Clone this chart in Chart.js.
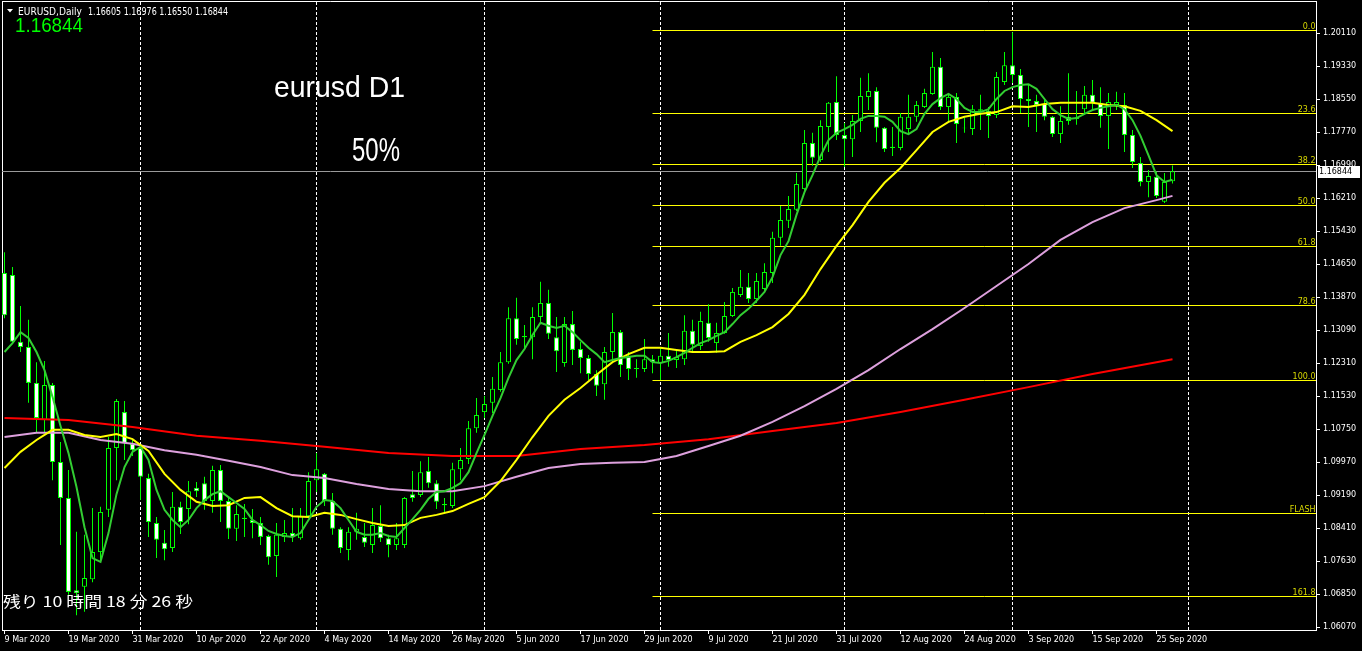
<!DOCTYPE html>
<html>
<head>
<meta charset="utf-8">
<script src="https://cdn.jsdelivr.net/npm/chart.js@4.4.1/dist/chart.umd.min.js"></script>
<style>
  html, body { margin: 0; padding: 0; background: #000; overflow: hidden; }
</style>
</head>
<body>
<canvas id="chart" width="1362" height="651"></canvas>
<script>
// EURUSD daily, one bar per weekday from 9 Mar 2020 (bar 0) to 29 Sep 2020 (bar 146)
const opens = [
  1.1444, 1.1439, 1.1281, 1.1269, 1.1184, 1.1096, 1.1179, 1.0997, 1.0912, 1.0694,
  1.0702, 1.0720, 1.0784, 1.0884, 1.1030, 1.1115, 1.1040, 1.1030, 1.0959, 1.0853,
  1.0806, 1.0794, 1.0891, 1.0886, 1.0936, 1.0947, 1.0905, 1.0978, 1.0905, 1.0839,
  1.0862, 1.0860, 1.0853, 1.0822, 1.0775, 1.0820, 1.0829, 1.0817, 1.0869, 1.0954,
  1.0969, 1.0905, 1.0839, 1.0789, 1.0832, 1.0820, 1.0801, 1.0846, 1.0817, 1.0801,
  1.0801, 1.0921, 1.0919, 1.0976, 1.0947, 1.0895, 1.0893, 1.0980, 1.1004, 1.1077,
  1.1115, 1.1137, 1.1167, 1.1233, 1.1337, 1.1292, 1.1292, 1.1340, 1.1373, 1.1292,
  1.1231, 1.1323, 1.1264, 1.1243, 1.1205, 1.1181, 1.1257, 1.1304, 1.1248, 1.1219,
  1.1217, 1.1240, 1.1231, 1.1248, 1.1238, 1.1240, 1.1307, 1.1271, 1.1326, 1.1278,
  1.1302, 1.1342, 1.1392, 1.1411, 1.1382, 1.1406, 1.1444, 1.1527, 1.1567, 1.1593,
  1.1642, 1.1751, 1.1711, 1.1789, 1.1848, 1.1770, 1.1760, 1.1803, 1.1860, 1.1874,
  1.1787, 1.1739, 1.1739, 1.1784, 1.1813, 1.1836, 1.1867, 1.1931, 1.1836, 1.1860,
  1.1787, 1.1784, 1.1831, 1.1827, 1.1817, 1.1895, 1.1935, 1.1912, 1.1855, 1.1850,
  1.1843, 1.1813, 1.1772, 1.1813, 1.1810, 1.1831, 1.1865, 1.1846, 1.1815, 1.1841,
  1.1841, 1.1770, 1.1704, 1.1659, 1.1671, 1.1612, 1.16605
];
const highs = [
  1.1493, 1.1458, 1.1366, 1.1333, 1.1233, 1.1236, 1.1184, 1.1044, 1.0978, 1.0832,
  1.0825, 1.0888, 1.0891, 1.1056, 1.1146, 1.1141, 1.1049, 1.1037, 1.0969, 1.0867,
  1.0836, 1.0926, 1.0903, 1.0952, 1.0950, 1.0962, 1.0988, 1.0990, 1.0912, 1.0895,
  1.0898, 1.0886, 1.0867, 1.0825, 1.0853, 1.0860, 1.0888, 1.0888, 1.0973, 1.1018,
  1.0971, 1.0924, 1.0843, 1.0843, 1.0877, 1.0853, 1.0888, 1.0895, 1.0825, 1.0853,
  1.0914, 1.0976, 1.0999, 1.1009, 1.0954, 1.0912, 1.0995, 1.1030, 1.1094, 1.1148,
  1.1153, 1.1198, 1.1257, 1.1363, 1.1385, 1.1321, 1.1363, 1.1423, 1.1404, 1.1340,
  1.1340, 1.1354, 1.1281, 1.1250, 1.1214, 1.1269, 1.1349, 1.1309, 1.1257, 1.1240,
  1.1288, 1.1250, 1.1269, 1.1302, 1.1262, 1.1344, 1.1333, 1.1352, 1.1370, 1.1326,
  1.1375, 1.1408, 1.1451, 1.1444, 1.1444, 1.1467, 1.1541, 1.1602, 1.1626, 1.1680,
  1.1782, 1.1775, 1.1805, 1.1848, 1.1909, 1.1798, 1.1817, 1.1905, 1.1916, 1.1883,
  1.1789, 1.1789, 1.1822, 1.1865, 1.1850, 1.1879, 1.1966, 1.1952, 1.1865, 1.1869,
  1.1810, 1.1841, 1.1865, 1.1836, 1.1919, 1.1966, 1.2013, 1.1926, 1.1888, 1.1865,
  1.1853, 1.1815, 1.1838, 1.1916, 1.1874, 1.1886, 1.1900, 1.1883, 1.1869, 1.1872,
  1.1869, 1.1782, 1.1718, 1.1687, 1.1683, 1.1680, 1.16976
];
const lows = [
  1.1337, 1.1276, 1.1257, 1.1137, 1.1068, 1.1068, 1.0954, 1.0801, 1.0683, 1.0635,
  1.0643, 1.0713, 1.0765, 1.0867, 1.0954, 1.1002, 1.1011, 1.0907, 1.0820, 1.0770,
  1.0765, 1.0784, 1.0827, 1.0850, 1.0914, 1.0884, 1.0877, 1.0855, 1.0815, 1.0810,
  1.0820, 1.0817, 1.0801, 1.0754, 1.0725, 1.0808, 1.0808, 1.0813, 1.0867, 1.0926,
  1.0893, 1.0825, 1.0782, 1.0765, 1.0813, 1.0796, 1.0782, 1.0808, 1.0772, 1.0789,
  1.0794, 1.0903, 1.0914, 1.0936, 1.0886, 1.0877, 1.0888, 1.0954, 1.0992, 1.1066,
  1.1101, 1.1113, 1.1163, 1.1229, 1.1274, 1.1262, 1.1240, 1.1326, 1.1288, 1.1210,
  1.1222, 1.1226, 1.1207, 1.1191, 1.1153, 1.1144, 1.1233, 1.1198, 1.1191, 1.1196,
  1.1210, 1.1207, 1.1191, 1.1222, 1.1219, 1.1226, 1.1255, 1.1262, 1.1281, 1.1255,
  1.1300, 1.1340, 1.1387, 1.1373, 1.1373, 1.1397, 1.1420, 1.1508, 1.1550, 1.1590,
  1.1638, 1.1697, 1.1706, 1.1730, 1.1758, 1.1694, 1.1718, 1.1777, 1.1829, 1.1753,
  1.1730, 1.1720, 1.1734, 1.1770, 1.1801, 1.1834, 1.1865, 1.1829, 1.1801, 1.1751,
  1.1775, 1.1770, 1.1782, 1.1763, 1.1810, 1.1888, 1.1893, 1.1822, 1.1789, 1.1777,
  1.1805, 1.1765, 1.1751, 1.1794, 1.1794, 1.1817, 1.1829, 1.1787, 1.1737, 1.1829,
  1.1730, 1.1692, 1.1649, 1.1623, 1.1621, 1.1609, 1.16550
];
const closes = [
  1.1344, 1.1281, 1.1269, 1.1184, 1.1101, 1.1179, 1.0997, 1.0912, 1.0690, 1.0687,
  1.0723, 1.0784, 1.0879, 1.1030, 1.1141, 1.1042, 1.1025, 1.0962, 1.0855, 1.0813,
  1.0791, 1.0891, 1.0855, 1.0928, 1.0928, 1.0905, 1.0978, 1.0905, 1.0839, 1.0874,
  1.0865, 1.0853, 1.0820, 1.0772, 1.0825, 1.0829, 1.0820, 1.0869, 1.0952, 1.0980,
  1.0905, 1.0839, 1.0794, 1.0832, 1.0839, 1.0806, 1.0848, 1.0817, 1.0801, 1.0817,
  1.0912, 1.0912, 1.0973, 1.0947, 1.0903, 1.0898, 1.0980, 1.1002, 1.1077, 1.1108,
  1.1134, 1.1170, 1.1233, 1.1337, 1.1288, 1.1295, 1.1340, 1.1373, 1.1300, 1.1259,
  1.1323, 1.1262, 1.1243, 1.1205, 1.1177, 1.1257, 1.1304, 1.1226, 1.1217, 1.1217,
  1.1240, 1.1233, 1.1248, 1.1238, 1.1245, 1.1307, 1.1274, 1.1330, 1.1290, 1.1302,
  1.1342, 1.1399, 1.1411, 1.1382, 1.1425, 1.1446, 1.1527, 1.1569, 1.1595, 1.1654,
  1.1751, 1.1716, 1.1791, 1.1846, 1.1770, 1.1760, 1.1803, 1.1862, 1.1874, 1.1787,
  1.1737, 1.1742, 1.1813, 1.1813, 1.1841, 1.1869, 1.1931, 1.1836, 1.1860, 1.1796,
  1.1786, 1.1831, 1.1827, 1.1815, 1.1907, 1.1935, 1.1912, 1.1855, 1.1850, 1.1841,
  1.1813, 1.1772, 1.1803, 1.1803, 1.1808, 1.1865, 1.1846, 1.1815, 1.1848, 1.1848,
  1.1770, 1.1706, 1.1659, 1.1673, 1.1626, 1.1659, 1.16844
];

// moving averages
const maGreen = [
  1.1257, 1.1278, 1.1304, 1.1290, 1.1257, 1.1214, 1.1151, 1.1082, 1.1018, 1.0938,
  1.0843, 1.0770, 1.0761, 1.0829, 1.0921, 1.0985, 1.1021, 1.1033, 1.1002, 1.0931,
  1.0884, 1.0860, 1.0843, 1.0860, 1.0888, 1.0907, 1.0921, 1.0928, 1.0914, 1.0900,
  1.0886, 1.0860, 1.0848, 1.0834, 1.0827, 1.0822, 1.0820, 1.0829, 1.0860, 1.0891,
  1.0907, 1.0905, 1.0888, 1.0860, 1.0832, 1.0825, 1.0825, 1.0829, 1.0822, 1.0820,
  1.0841, 1.0862, 1.0884, 1.0910, 1.0926, 1.0928, 1.0936, 1.0947, 1.0973, 1.1018,
  1.1061, 1.1106, 1.1148, 1.1196, 1.1238, 1.1264, 1.1297, 1.1326, 1.1319, 1.1314,
  1.1319, 1.1304, 1.1285, 1.1267, 1.1252, 1.1233, 1.1238, 1.1243, 1.1245, 1.1248,
  1.1248, 1.1233, 1.1231, 1.1236, 1.1245, 1.1255, 1.1267, 1.1278, 1.1285, 1.1295,
  1.1304, 1.1323, 1.1344, 1.1359, 1.1378, 1.1399, 1.1434, 1.1486, 1.1519, 1.1581,
  1.1635, 1.1675, 1.1720, 1.1758, 1.1775, 1.1784, 1.1794, 1.1808, 1.1815, 1.1815,
  1.1813, 1.1801, 1.1779, 1.1772, 1.1784, 1.1820, 1.1843, 1.1857, 1.1867, 1.1855,
  1.1834, 1.1824, 1.1824, 1.1831, 1.1855, 1.1874, 1.1883, 1.1888, 1.1890, 1.1879,
  1.1855, 1.1831, 1.1817, 1.1808, 1.1810, 1.1820, 1.1829, 1.1834, 1.1838, 1.1841,
  1.1831, 1.1805, 1.1768, 1.1722, 1.1675, 1.1659, 1.1664
];
// yellow is read every second bar
const yellowStep = 2;
const maYellow = [
  1.0983, 1.1021, 1.1049, 1.1073, 1.1073, 1.1061, 1.1056, 1.1063, 1.1051, 1.1023,
  1.0969, 1.0931, 1.0903, 1.0893, 1.0895, 1.0912, 1.0914, 1.0888, 1.0869, 1.0867,
  1.0877, 1.0872, 1.0862, 1.0853, 1.0846, 1.0848, 1.0865, 1.0872, 1.0881, 1.0898,
  1.0914, 1.0952, 1.1002, 1.1056, 1.1106, 1.1144, 1.1172, 1.1203, 1.1233, 1.1252,
  1.1267, 1.1267, 1.1262, 1.1257, 1.1257, 1.1259, 1.1281, 1.1297, 1.1316, 1.1347,
  1.1392, 1.1453, 1.1508, 1.1557, 1.1612, 1.1657, 1.1692, 1.1734, 1.1777, 1.1801,
  1.1813, 1.1820, 1.1824, 1.1838, 1.1836, 1.1843, 1.1846, 1.1846, 1.1846, 1.1841,
  1.1838, 1.1827, 1.1805, 1.1779
];
const pinkDays = [0, 4, 8, 12, 16, 20, 24, 28, 32, 36, 40, 44, 48, 52, 56, 60, 64, 68, 72, 76,
  80, 84, 88, 92, 96, 100, 104, 108, 112, 116, 120, 124, 128, 132, 136, 140, 144, 146];
const maPink = [1.1056, 1.1066, 1.1066, 1.1049, 1.1040, 1.1025, 1.1014, 1.1000, 1.0985, 1.0966,
  1.0959, 1.0945, 1.0933, 1.0928, 1.0928, 1.0940, 1.0962, 1.0983, 1.0992, 1.0995,
  1.0997, 1.1011, 1.1035, 1.1059, 1.1092, 1.1129, 1.1170, 1.1214, 1.1264, 1.1311,
  1.1361, 1.1413, 1.1465, 1.1522, 1.1564, 1.1597, 1.1616, 1.1626];
const redDays = [0, 8, 16, 24, 32, 40, 48, 56, 64, 72, 80, 88, 96, 104, 112, 120, 128, 136, 144, 146];
const maRed = [1.1101, 1.1096, 1.1080, 1.1059, 1.1047, 1.1033, 1.1018, 1.1011, 1.1011, 1.1028,
  1.1037, 1.1051, 1.1070, 1.1089, 1.1115, 1.1144, 1.1174, 1.1205, 1.1233, 1.1240];

// fibonacci retracement drawn from bar 81
const fibStart = 81;
const fibNames = ['0.0', '23.6', '38.2', '50.0', '61.8', '78.6', '100.0', 'FLASH', '161.8'];
const fibLevels = [1.2018, 1.1822, 1.1702, 1.16045, 1.1507, 1.1368, 1.1191, 1.0877, 1.0680];

// axis ticks
const tickDays = [0, 8, 16, 24, 32, 40, 48, 56, 64, 72, 80, 88, 96, 104, 112, 120, 128, 136, 144];
const tickLabels = ['9 Mar 2020', '19 Mar 2020', '31 Mar 2020', '10 Apr 2020', '22 Apr 2020',
  '4 May 2020', '14 May 2020', '26 May 2020', '5 Jun 2020', '17 Jun 2020', '29 Jun 2020',
  '9 Jul 2020', '21 Jul 2020', '31 Jul 2020', '12 Aug 2020', '24 Aug 2020', '3 Sep 2020',
  '15 Sep 2020', '25 Sep 2020'];
const monthStarts = [17, 39, 60, 82, 105, 126, 148];
const yTicks = [1.06070, 1.06850, 1.07630, 1.08410, 1.09190, 1.09970, 1.10750, 1.11530, 1.12310,
  1.13090, 1.13870, 1.14650, 1.15430, 1.16210, 1.16990, 1.17770, 1.18550, 1.19330, 1.20110];

const last = closes.length - 1;
const xLo = -0.3125, xHi = 163.9375;
const yLo = 1.059991, yHi = 1.208664;
const LIME = '#00ff00';

function noPad(s) {
  s.paddingTop = 0; s.paddingBottom = 0; s.paddingLeft = 0; s.paddingRight = 0;
}

function fitText(ctx, str, x, base, width, font, color) {
  ctx.save();
  ctx.font = font;
  ctx.fillStyle = color;
  ctx.textAlign = 'left';
  ctx.textBaseline = 'alphabetic';
  const w = ctx.measureText(str).width;
  ctx.translate(x, base);
  ctx.scale(width / w, 1);
  ctx.fillText(str, 0, 0);
  ctx.restore();
}

// keep the 1px horizontal lines on whole pixel rows so they stay bright
const crisp = {
  id: 'crisp',
  beforeDatasetDraw(chart, args) {
    if (!chart.data.datasets[args.index].crisp) return;
    args.meta.data.forEach(p => { p.y = Math.round(p.y) + 0.5; });
  }
};

const overlay = {
  id: 'overlay',
  beforeDraw(chart) {
    const ctx = chart.ctx;
    ctx.save();
    ctx.fillStyle = '#000';
    ctx.fillRect(0, 0, chart.width, chart.height);
    ctx.restore();
  },
  afterDraw(chart) {
    const ctx = chart.ctx;
    const area = chart.chartArea;
    const ys = chart.scales.y;

    // fibonacci level names
    ctx.save();
    ctx.font = '8px "DejaVu Sans"';
    ctx.fillStyle = '#d8d800';
    ctx.textAlign = 'right';
    ctx.textBaseline = 'alphabetic';
    fibLevels.forEach((v, k) => {
      ctx.fillText(fibNames[k], area.right - 0.5, Math.round(ys.getPixelForValue(v)) - 1.5);
    });
    ctx.restore();

    // header
    ctx.save();
    ctx.fillStyle = '#fff';
    ctx.beginPath();
    ctx.moveTo(7, 9); ctx.lineTo(13, 9); ctx.lineTo(10, 12.5); ctx.closePath();
    ctx.fill();
    ctx.restore();
    fitText(ctx, 'EURUSD,Daily', 18, 14.5, 64, '10px "DejaVu Sans"', '#fff');
    const ohlc = [opens[last], highs[last], lows[last], closes[last]].map(v => v.toFixed(5)).join(' ');
    fitText(ctx, ohlc, 88, 14.5, 140, '10px "DejaVu Sans"', '#fff');
    fitText(ctx, closes[last].toFixed(5), 15, 31.5, 68, '21px "Liberation Sans"', LIME);

    // notes on the chart
    fitText(ctx, 'eurusd D1', 274, 97, 131, '30px "Liberation Sans"', '#fff');
    fitText(ctx, '50%', 352, 160.5, 48, '33px "Liberation Sans"', '#fff');
    fitText(ctx, '残り 10 時間 18 分 26 秒', 3, 607, 190, '15px "Noto Sans CJK JP"', '#fff');

    // current price tag on the axis
    const py = Math.round(ys.getPixelForValue(closes[last]));
    ctx.save();
    ctx.fillStyle = '#fff';
    ctx.fillRect(area.right + 2, py - 5, 42, 12);
    ctx.fillStyle = '#000';
    ctx.font = '8px "DejaVu Sans"';
    ctx.textAlign = 'left';
    ctx.textBaseline = 'middle';
    ctx.fillText(closes[last].toFixed(5), area.right + 3, py + 1);
    ctx.restore();
  }
};

const dayIdx = closes.map((c, i) => i);

const datasets = [
  {
    type: 'line', label: 'MA green', order: 1,
    data: maGreen.map((v, i) => ({ x: i, y: v })),
    borderColor: '#32cd32', borderWidth: 2, pointRadius: 0, tension: 0
  },
  {
    type: 'line', label: 'MA yellow', order: 2,
    data: maYellow.map((v, k) => ({ x: k * yellowStep, y: v })),
    borderColor: '#ffff00', borderWidth: 2, pointRadius: 0, tension: 0
  },
  {
    type: 'line', label: 'MA pink', order: 3,
    data: maPink.map((v, k) => ({ x: pinkDays[k], y: v })),
    borderColor: '#dda0dd', borderWidth: 2, pointRadius: 0, tension: 0
  },
  {
    type: 'line', label: 'MA red', order: 4,
    data: maRed.map((v, k) => ({ x: redDays[k], y: v })),
    borderColor: '#ff0000', borderWidth: 2, pointRadius: 0, tension: 0
  },
  {
    type: 'bar', label: 'body', order: 5, grouped: false, maxBarThickness: 5,
    data: dayIdx.map(i => ({ x: i, y: [opens[i], closes[i]] })),
    backgroundColor: dayIdx.map(i => closes[i] < opens[i] ? '#ffffff' : '#000000'),
    borderColor: LIME, borderWidth: 1, borderSkipped: false
  },
  {
    type: 'bar', label: 'wick', order: 6, grouped: false, maxBarThickness: 1,
    data: dayIdx.map(i => ({ x: i, y: [lows[i], highs[i]] })),
    backgroundColor: LIME, borderWidth: 0
  },
  {
    type: 'line', label: 'price', order: 7, crisp: true,
    data: [{ x: xLo, y: closes[last] }, { x: xHi, y: closes[last] }],
    borderColor: '#9a9a9a', borderWidth: 1, pointRadius: 0
  }
].concat(fibLevels.map((v, k) => ({
  type: 'line', label: 'fib ' + fibNames[k], order: 8, crisp: true,
  data: [{ x: fibStart, y: v }, { x: xHi, y: v }],
  borderColor: '#ffff00', borderWidth: 1, pointRadius: 0
})));

new Chart(document.getElementById('chart').getContext('2d'), {
  type: 'bar',
  data: { datasets },
  options: {
    responsive: false,
    devicePixelRatio: 1,
    animation: false,
    events: [],
    layout: { padding: 0 },
    plugins: { legend: { display: false }, tooltip: { enabled: false } },
    scales: {
      x: {
        type: 'linear', position: 'bottom', min: xLo, max: xHi, offset: false,
        afterBuildTicks: s => { s.ticks = tickDays.map(v => ({ value: v })); },
        afterFit: s => { s.height = 21; noPad(s); },
        ticks: {
          color: '#fff', font: { family: 'DejaVu Sans', size: 8 }, align: 'start',
          autoSkip: false, maxRotation: 0, padding: 1,
          callback: v => tickLabels[tickDays.indexOf(v)]
        },
        grid: { drawOnChartArea: false, offset: false, color: '#fff', tickLength: 4 },
        border: { color: '#fff' }
      },
      months: {
        type: 'linear', position: 'top', min: xLo, max: xHi, offset: false,
        afterBuildTicks: s => { s.ticks = monthStarts.map(v => ({ value: v })); },
        afterFit: s => { s.height = 1; noPad(s); },
        ticks: { display: false },
        grid: { offset: false, color: '#fff', drawTicks: false },
        border: { color: '#fff', dash: [3, 2] }
      },
      y: {
        type: 'linear', position: 'right', min: yLo, max: yHi,
        afterBuildTicks: s => { s.ticks = yTicks.map(v => ({ value: v })); },
        afterFit: s => { s.width = 46; noPad(s); },
        ticks: {
          color: '#fff', font: { family: 'DejaVu Sans', size: 8 }, padding: 3,
          callback: v => v.toFixed(5)
        },
        grid: { drawOnChartArea: false, color: '#fff', tickLength: 4 },
        border: { color: '#fff' }
      },
      frame: {
        type: 'linear', position: 'left',
        afterFit: s => { s.width = 2; noPad(s); },
        ticks: { display: false },
        grid: { display: false },
        border: { color: '#fff' }
      }
    }
  },
  plugins: [crisp, overlay]
});
</script>
</body>
</html>
